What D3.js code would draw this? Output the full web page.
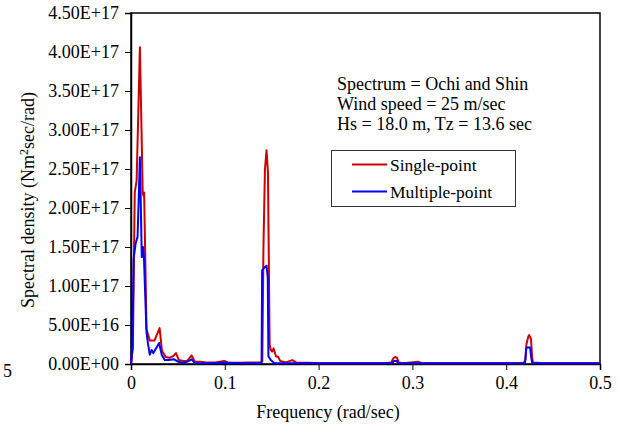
<!DOCTYPE html>
<html>
<head>
<meta charset="utf-8">
<script src="https://cdn.jsdelivr.net/npm/d3@7"></script>
<style>
  body { margin: 0; background: #fff; }
  text { font-family: "Liberation Serif", "Times New Roman", serif; fill: #000; }
</style>
</head>
<body>
<div id="chart"></div>
<script>
// Spectral density, values in units of 1E17 Nm2sec/rad

const singleFreq = [0, 0.002, 0.004, 0.006, 0.0095, 0.0125, 0.0135, 0.014, 0.0165, 0.02, 0.025, 0.0305,
  0.033, 0.037, 0.041, 0.045, 0.048, 0.051, 0.056, 0.06, 0.0647, 0.068, 0.074, 0.08, 0.09, 0.0995, 0.103,
  0.115, 0.125, 0.137, 0.14, 0.1412, 0.1428, 0.1445, 0.146, 0.1468, 0.1478, 0.149, 0.1505, 0.152, 0.1545,
  0.157, 0.159, 0.165, 0.172, 0.176, 0.19, 0.2, 0.27, 0.2775, 0.2795, 0.2815, 0.2835, 0.2855, 0.29, 0.306,
  0.31, 0.35, 0.4, 0.4185, 0.4205, 0.4215, 0.4235, 0.4245, 0.4265, 0.4275, 0.4285, 0.44, 0.5];
const singleVal = [0, 0.2, 2.2, 2.35, 4.06, 2.19, 2.15, 2.2, 0.45, 0.3, 0.3, 0.46,
  0.17, 0.09, 0.08, 0.1, 0.14, 0.05, 0.04, 0.04, 0.11, 0.03, 0.03, 0.02, 0.02, 0.04, 0.02,
  0.015, 0.02, 0.02, 0.03, 1.5, 2.5, 2.74, 2.45, 1.5, 0.25, 0.18, 0.16, 0.2, 0.1,
  0.09, 0.04, 0.02, 0.05, 0.02, 0.015, 0.01, 0.01, 0.02, 0.07, 0.09, 0.08, 0.02, 0.01, 0.03,
  0.01, 0.01, 0.01, 0.01, 0.05, 0.25, 0.35, 0.37, 0.32, 0.1, 0.02, 0.01, 0.01];

const multiFreq = [0, 0.0015, 0.0028, 0.005, 0.007, 0.0095, 0.0115, 0.0128, 0.0138, 0.0165, 0.018, 0.02,
  0.022, 0.0238, 0.0266, 0.03, 0.0327, 0.036, 0.04, 0.046, 0.05, 0.055, 0.06, 0.0647, 0.068, 0.08, 0.1,
  0.12, 0.1385, 0.1392, 0.1398, 0.1418, 0.1445, 0.1458, 0.1465, 0.149, 0.153, 0.2, 0.279, 0.28, 0.283,
  0.285, 0.42, 0.4205, 0.4215, 0.4255, 0.4265, 0.4275, 0.43, 0.5];
const multiVal = [0, 0.22, 1.35, 1.55, 1.63, 2.65, 1.37, 1.5, 1.37, 0.41, 0.27, 0.12,
  0.18, 0.14, 0.2, 0.27, 0.12, 0.05, 0.05, 0.06, 0.03, 0.02, 0.03, 0.06, 0.01, 0.01, 0.015,
  0.01, 0.01, 0.02, 1.2, 1.23, 1.26, 1.1, 0.1, 0.05, 0.01, 0.01, 0.01, 0.04, 0.04,
  0.01, 0.01, 0.08, 0.21, 0.21, 0.1, 0.02, 0.01, 0.01];

const xTicks = [0, 0.1, 0.2, 0.3, 0.4, 0.5];
const yTicks = [0, 0.5, 1, 1.5, 2, 2.5, 3, 3.5, 4, 4.5];
const yTickLabels = ["0.00E+00", "5.00E+16", "1.00E+17", "1.50E+17", "2.00E+17", "2.50E+17",
  "3.00E+17", "3.50E+17", "4.00E+17", "4.50E+17"];
const infoLines = ["Spectrum = Ochi and Shin", "Wind speed = 25 m/sec", "Hs = 18.0 m, Tz = 13.6 sec"];
const seriesNames = ["Single-point", "Multiple-point"];
const seriesColors = ["#cc0000", "#0000ff"];

const width = 621, height = 430;
const plot = { left: 131, right: 600, top: 13, bottom: 364 };

const svg = d3.select("#chart").append("svg")
  .attr("width", width)
  .attr("height", height);

const x = d3.scaleLinear().domain([0, 0.5]).range([plot.left, plot.right]);
const y = d3.scaleLinear().domain([0, 4.5]).range([plot.bottom, plot.top]);

// frame
svg.append("rect")
  .attr("x", plot.left).attr("y", plot.top)
  .attr("width", plot.right - plot.left).attr("height", plot.bottom - plot.top)
  .attr("fill", "none").attr("stroke", "#000").attr("stroke-width", 1.5);

// axes
const xAxis = d3.axisBottom(x).tickValues(xTicks).tickSize(6).tickPadding(6)
  .tickFormat(d => d === 0 ? "0" : d3.format(".1f")(d));
const gx = svg.append("g").attr("transform", `translate(0,${plot.bottom})`).call(xAxis);

const yAxis = d3.axisLeft(y).tickValues(yTicks).tickSize(6).tickPadding(6)
  .tickFormat((d, i) => yTickLabels[i]);
const gy = svg.append("g").attr("transform", `translate(${plot.left},0)`).call(yAxis);

[gx, gy].forEach(g => {
  g.select(".domain").attr("stroke", "#000").attr("stroke-width", 1.5);
  g.selectAll(".tick line").attr("stroke", "#000").attr("stroke-width", 1);
  g.selectAll(".tick text").style("font-family", '"Liberation Serif", serif')
    .style("font-size", "18px").attr("fill", "#000");
});

// series
const line = d3.line().x(d => x(d[0])).y(d => y(d[1]));
const singleData = singleFreq.map((f, i) => [f, singleVal[i]]);
const multiData = multiFreq.map((f, i) => [f, multiVal[i]]);

svg.append("path").datum(singleData)
  .attr("d", line).attr("fill", "none")
  .attr("stroke", seriesColors[0]).attr("stroke-width", 2).attr("stroke-linejoin", "round");
svg.append("path").datum(multiData)
  .attr("d", line).attr("fill", "none")
  .attr("stroke", seriesColors[1]).attr("stroke-width", 2).attr("stroke-linejoin", "round");

// axis titles
svg.append("text")
  .attr("x", 328).attr("y", 418)
  .attr("text-anchor", "middle").style("font-size", "18px")
  .text("Frequency (rad/sec)");

const yt = svg.append("text")
  .attr("transform", "translate(34,200) rotate(-90)")
  .attr("text-anchor", "middle").style("font-size", "18px");
yt.append("tspan").text("Spectral density (Nm");
yt.append("tspan").attr("dy", -6).style("font-size", "12px").text("2");
yt.append("tspan").attr("dy", 6).text("sec/rad)");

// stray label at the left edge
svg.append("text").attr("x", 3).attr("y", 377).style("font-size", "18px").text("5");

// annotation
svg.append("g").selectAll("text").data(infoLines).enter().append("text")
  .attr("x", 337).attr("y", (d, i) => 90 + i * 20)
  .style("font-size", "18px")
  .text(d => d);

// legend
const legend = svg.append("g");
legend.append("rect")
  .attr("x", 331.5).attr("y", 150.5).attr("width", 184).attr("height", 56)
  .attr("fill", "#fff").attr("stroke", "#333").attr("stroke-width", 1);
seriesNames.forEach((name, i) => {
  const ly = 164.5 + i * 27;
  legend.append("line")
    .attr("x1", 352).attr("x2", 387).attr("y1", ly).attr("y2", ly)
    .attr("stroke", seriesColors[i]).attr("stroke-width", 2);
  legend.append("text")
    .attr("x", 390).attr("y", ly + 6.5)
    .style("font-size", "17.5px")
    .text(name);
});
</script>
</body>
</html>
